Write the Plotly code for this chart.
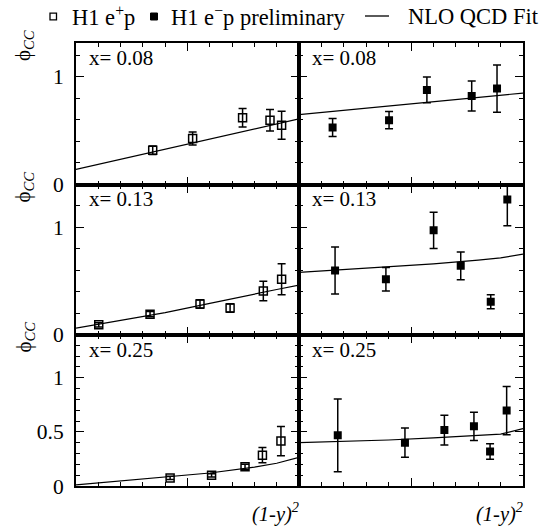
import plotly.graph_objects as go

W, H = 542, 529

# ---------------- data ----------------
bins = ["x= 0.08", "x= 0.13", "x= 0.25"]

# H1 e+p (open squares), left column
eplus_x = [[0.344, 0.523, 0.747, 0.870, 0.922],
           [0.102, 0.332, 0.556, 0.691, 0.840, 0.922],
           [0.422, 0.608, 0.758, 0.836, 0.919]]
eplus_y = [[0.318, 0.427, 0.620, 0.598, 0.551],
           [0.090, 0.190, 0.284, 0.247, 0.406, 0.516],
           [0.074, 0.099, 0.177, 0.285, 0.415]]
eplus_err = [[0.04, 0.06, 0.086, 0.10, 0.13],
             [0.02, 0.025, 0.04, 0.04, 0.09, 0.145],
             [0.015, 0.015, 0.025, 0.07, 0.135]]

# H1 e-p preliminary (filled squares), right column
eminus_x = [[0.150, 0.402, 0.571, 0.771, 0.884],
            [0.161, 0.388, 0.601, 0.722, 0.856, 0.930],
            [0.173, 0.473, 0.649, 0.781, 0.853, 0.927]]
eminus_y = [[0.530, 0.598, 0.879, 0.822, 0.891],
            [0.597, 0.516, 0.972, 0.641, 0.306, 1.260],
            [0.468, 0.400, 0.517, 0.551, 0.319, 0.697]]
eminus_err = [[0.083, 0.08, 0.12, 0.14, 0.22],
              [0.22, 0.11, 0.17, 0.13, 0.066, 0.245],
              [0.337, 0.135, 0.137, 0.13, 0.071, 0.223]]

# NLO QCD fit curves
fit_x = [0.0, 0.2, 0.4, 0.6, 0.8, 0.9, 1.0]
fit_plus = [[0.14, 0.235, 0.33, 0.425, 0.52, 0.565, 0.61],
            [0.06, 0.13, 0.205, 0.29, 0.38, 0.42, 0.46],
            [0.01, 0.045, 0.08, 0.12, 0.175, 0.21, 0.265]]
fit_minus = [[0.65, 0.69, 0.73, 0.775, 0.815, 0.835, 0.85],
             [0.58, 0.605, 0.63, 0.66, 0.695, 0.715, 0.75],
             [0.40, 0.41, 0.425, 0.445, 0.465, 0.48, 0.53]]

y_max = [1.315, 1.40, 1.40]
y_major = [[0, 1], [0, 1], [0, 0.5, 1]]
y_major_text = [["0", "1"], ["0", "1"], ["0", "0.5", "1"]]
y_minor = [0.2, 0.2, 0.1]

legend_labels = ["H1 e<sup>+</sup>p", "H1 e<sup>\u2212</sup>p preliminary", "NLO QCD Fit"]

# ---------------- layout geometry ----------------
X_EDGES = [76, 299, 523]
Y_EDGES = [43, 184.5, 334.5, 486]
FONT = "Liberation Serif"


def px(x):
    return x / W


def py(y):
    return 1 - y / H


fig = go.Figure()
layout = dict(
    width=W, height=H, margin=dict(l=0, r=0, t=0, b=0, autoexpand=False),
    paper_bgcolor="white", plot_bgcolor="white",
    font=dict(family=FONT, size=21, color="black"),
    showlegend=False,
)
annotations = []
shapes = []

err_style = dict(type="data", color="black", thickness=1.5, width=4)

for r in range(3):
    for c in range(2):
        i = r * 2 + c + 1
        xn = "x" if i == 1 else f"x{i}"
        yn = "y" if i == 1 else f"y{i}"
        xd = [px(X_EDGES[c]), px(X_EDGES[c + 1])]
        yd = [py(Y_EDGES[r + 1]), py(Y_EDGES[r])]
        layout["xaxis" if i == 1 else f"xaxis{i}"] = dict(
            domain=xd, anchor=yn, range=[0, 1], showgrid=False, zeroline=False,
            showline=True, linecolor="black", linewidth=2, mirror="allticks",
            ticks="inside", tickvals=[0, 0.5, 1], ticklen=8, tickwidth=1.3,
            tickcolor="black", showticklabels=False,
            minor=dict(dtick=0.1, ticks="inside", ticklen=4, tickwidth=1.3,
                       tickcolor="black", showgrid=False),
        )
        layout["yaxis" if i == 1 else f"yaxis{i}"] = dict(
            domain=yd, anchor=xn, range=[0, y_max[r]], showgrid=False, zeroline=False,
            showline=True, linecolor="black", linewidth=2, mirror="allticks",
            ticks="inside", tickvals=y_major[r], ticktext=y_major_text[r],
            ticklen=8, tickwidth=1.3, tickcolor="black",
            showticklabels=(c == 0), ticklabelstandoff=6,
            tickfont=dict(family=FONT, size=21.5),
            minor=dict(dtick=y_minor[r], ticks="inside", ticklen=4, tickwidth=1.3,
                       tickcolor="black", showgrid=False),
        )
        if c == 0:
            fig.add_trace(go.Scatter(
                x=fit_x, y=fit_plus[r], mode="lines", xaxis=xn, yaxis=yn,
                line=dict(color="black", width=1.2)))
            fig.add_trace(go.Scatter(
                x=eplus_x[r], y=eplus_y[r], mode="markers", xaxis=xn, yaxis=yn,
                error_y=dict(array=eplus_err[r], **err_style),
                marker=dict(symbol="square-open", size=8, color="black",
                            line=dict(width=1.5, color="black")),
                name=legend_labels[0]))
        else:
            fig.add_trace(go.Scatter(
                x=fit_x, y=fit_minus[r], mode="lines", xaxis=xn, yaxis=yn,
                line=dict(color="black", width=1.2), name=legend_labels[2]))
            fig.add_trace(go.Scatter(
                x=eminus_x[r], y=eminus_y[r], mode="markers", xaxis=xn, yaxis=yn,
                error_y=dict(array=eminus_err[r], **err_style),
                marker=dict(symbol="square", size=8, color="black"),
                name=legend_labels[1]))
        # bin label
        annotations.append(dict(
            text=bins[r], x=px(X_EDGES[c] + 11), y=py(Y_EDGES[r] + 15),
            xref="paper", yref="paper", xanchor="left", yanchor="middle",
            showarrow=False, font=dict(family=FONT, size=21)))
        if r == 2:
            annotations.append(dict(
                text="<i>(1-y)</i><sup><i>2</i></sup>", x=px(X_EDGES[c + 1] + 2),
                y=py(497), xref="paper", yref="paper", xanchor="right",
                yanchor="top", showarrow=False, font=dict(family=FONT, size=20.5)))
    annotations.append(dict(
        text="\u03d5<sub><i>CC</i></sub>", x=px(24), y=py(Y_EDGES[r] + 3),
        xref="paper", yref="paper", xanchor="center", yanchor="middle",
        textangle=-90, showarrow=False, font=dict(family=FONT, size=21)))

# ---------------- legend (drawn by hand, as in the reference) ----------------
LEG_Y = 16.5
shapes.append(dict(type="rect", xref="paper", yref="paper",
                   x0=px(50), x1=px(56.5), y0=py(LEG_Y + 3.3), y1=py(LEG_Y - 3.3),
                   line=dict(color="black", width=1.3), fillcolor="white"))
shapes.append(dict(type="rect", xref="paper", yref="paper",
                   x0=px(150.5), x1=px(157.5), y0=py(LEG_Y + 3.5), y1=py(LEG_Y - 3.5),
                   line=dict(color="black", width=1), fillcolor="black"))
shapes.append(dict(type="line", xref="paper", yref="paper",
                   x0=px(365), x1=px(389), y0=py(LEG_Y - 0.5), y1=py(LEG_Y - 0.5),
                   line=dict(color="black", width=1.3)))
for lx, lab in zip([70.5, 169, 405.5], legend_labels):
    annotations.append(dict(
        text=lab, x=px(lx), y=py(LEG_Y), xref="paper", yref="paper",
        xanchor="left", yanchor="middle", showarrow=False,
        font=dict(family=FONT, size=22.5)))

layout["annotations"] = annotations
layout["shapes"] = shapes
fig.update_layout(**layout)
fig.write_html("out.html")
